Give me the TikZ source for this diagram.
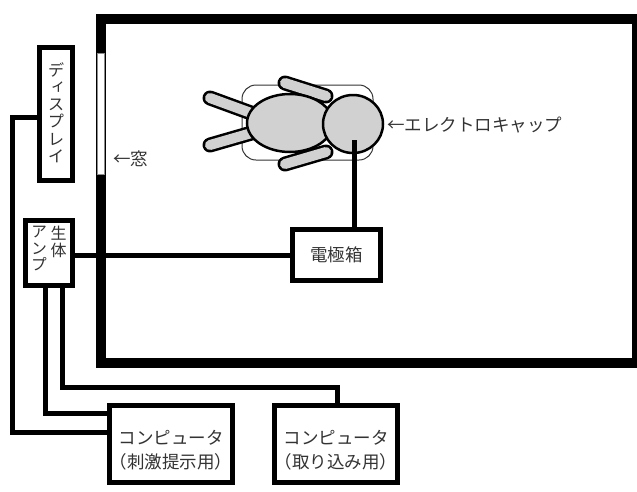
\documentclass[tikz,border=0pt]{standalone}
\usepackage{fontspec}
\setmainfont{Noto Sans CJK JP}
\newfontfamily\vjp[RawFeature=+vert]{Noto Sans CJK JP}
\usetikzlibrary{calc}
\begin{document}
\begin{tikzpicture}[x=1pt,y=-1pt,
  box/.style={draw=black, line width=5pt, fill=white, inner sep=0pt},
  wire/.style={draw=black, line width=5pt, line join=miter},
  lbl/.style={text=black!80, inner sep=0pt, font=\fontsize{17.5}{24}\selectfont},
  vlbl/.style={text=black!80, inner sep=0pt, align=center},
  limb/.style={line cap=round, line width=15pt, draw=black},
  limbfill/.style={line cap=round, line width=10pt, draw=black!18},
  skin/.style={fill=black!18, draw=black, line width=2.5pt}]
\useasboundingbox (0,0) rectangle (637,491);

% shielded room walls and window
\draw[line width=10pt] (100.5,19) rectangle (637,363);
\draw[fill=white, draw=black!45, line width=0.8pt] (97,53) rectangle (104,174);
\node[lbl, anchor=west] (win) at (113,159) {←窓};

% bed and subject seen from above
\draw[draw=black!80, line width=1pt, rounded corners=14pt] (242,85) rectangle (373,160);
\foreach \a/\b in {{(210,98)}/{(262,117)}, {(210,145)}/{(262,130)},
                   {(285,83)}/{(326,96)}, {(285,164)}/{(326,152)}} {
  \draw[limb] \a -- \b;
  \draw[limbfill] \a -- \b;
}
\draw[skin] (290,123) ellipse [x radius=43, y radius=29];
\draw[skin] (353,124) ellipse [x radius=30, y radius=29];
\coordinate (cap) at (354,140);
\node[lbl, anchor=west] (caplbl) at (387,125) {←エレクトロキャップ};

% equipment boxes
\node[box, minimum width=33pt, minimum height=133pt] (disp) at (56,114) {};
\node[vlbl, anchor=north, font=\vjp\fontsize{16.5}{17.3}\selectfont] (disptxt) at (56,62)
  {デ\\ィ\\ス\\プ\\レ\\イ};

\node[box, minimum width=47pt, minimum height=65pt] (amp) at (49,253) {};
\node[vlbl, anchor=north, font=\vjp\fontsize{16}{16.5}\selectfont] (amp1) at (58.5,226) {生\\体};
\node[vlbl, anchor=north, font=\vjp\fontsize{16}{16.5}\selectfont] (amp2) at (39,226) {ア\\ン\\プ};

\node[box, minimum width=88pt, minimum height=51pt] (ebox) at (336.5,255) {};
\node[lbl] (eboxtxt) at (336.5,255) {電極箱};

\node[box, minimum width=123pt, minimum height=77pt] (comp1) at (171,444) {};
\node[lbl, align=center] (comp1txt) at (171,450) {コンピュータ\\（刺激提示用）};

\node[box, minimum width=123pt, minimum height=77pt] (comp2) at (336,444) {};
\node[lbl, align=center] (comp2txt) at (336,450) {コンピュータ\\（取り込み用）};

% cables
\draw[wire] (cap) -- (ebox.north -| cap);
\draw[wire] (amp.east |- ebox.west) -- (ebox.west);
\draw[wire] (disp.west |- 0,117) -- (12,117) |- (comp1.west |- 0,432);
\draw[wire] (amp.south -| 45,0) |- (comp1.west |- 0,413);
\draw[wire] (amp.south -| 62,0) |- (337,387) -- (comp2.north -| 337,0);
\end{tikzpicture}
\end{document}
